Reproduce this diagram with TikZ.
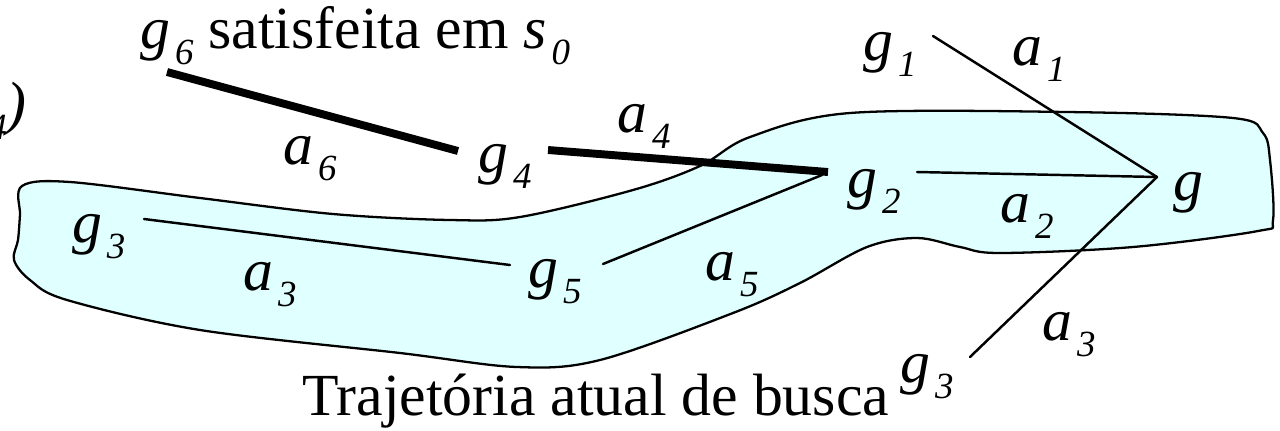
\documentclass[tikz,border=0pt]{standalone}
\usepackage{fontspec}
\setmainfont{Liberation Serif}
\definecolor{trajfill}{RGB}{224,255,255}
\newcommand{\rotulo}[2]{\textit{#1}\kern0.08em\raisebox{-0.28em}{\fontsize{21}{24}\selectfont\textit{#2}}}

\begin{document}
\begin{tikzpicture}[x=0.02cm, y=-0.02cm, line join=round, line cap=round,
		font=\fontsize{34}{40}\selectfont,
		fino/.style={line width=1.4pt},
		grosso/.style={line width=4.5pt, line cap=butt},
		rot/.style={inner sep=0pt, anchor=base west}]
		\useasboundingbox (0,0) rectangle (1280,430);
		% Trajetoria atual
		\draw[line width=1.3pt, fill=trajfill] plot[smooth cycle, tension=0.55] coordinates {
			(22,186) (70,182) (200,198) (333,214) (450,220) (520,217) (633,190) (700,166)
			(750,137) (850,113) (1067,112) (1233,118) (1263,133) (1270,160) (1273,220)
			(1258,231) (1133,247) (1000,253) (960,247) (917,238) (867,247) (800,283)
			(733,313) (600,360) (517,367) (400,353) (200,330) (67,300) (30,280) (14,260)
			(18,240) (20,215)};
		% rotulos
		\node[rot] (g6) at (140,48) {\rotulo{g}{6} satisfeita em \rotulo{s}{0}};
		\node[inner sep=0pt, anchor=base east] (g4frag) at (27,123) {\textit{\raisebox{-0.28em}{\fontsize{21}{24}\selectfont 4})}};
		\node[rot] (a6) at (283,164) {\rotulo{a}{6}};
		\node[rot] (g4) at (478,172) {\rotulo{g}{4}};
		\node[rot] (a4) at (617,132) {\rotulo{a}{4}};
		\node[rot] (g2) at (847,197) {\rotulo{g}{2}};
		\node[rot] (g1) at (863,60) {\rotulo{g}{1}};
		\node[rot] (a1) at (1012,65) {\rotulo{a}{1}};
		\node[rot] (a2) at (1000,222) {\rotulo{a}{2}};
		\node[rot] (g) at (1173,200) {\textit{g}};
		\node[rot] (a3d) at (1042,340) {\rotulo{a}{3}};
		\node[rot] (g3d) at (900,382) {\rotulo{g}{3}};
		\node[rot] (g3e) at (72,242) {\rotulo{g}{3}};
		\node[rot] (a3e) at (243,290) {\rotulo{a}{3}};
		\node[rot] (g5) at (528,287) {\rotulo{g}{5}};
		\node[rot] (a5) at (705,280) {\rotulo{a}{5}};
		\node[rot] (traj) at (302,415) {Trajetória atual de busca};
		% pontas das arestas
		\coordinate (c6) at (167,72);
		\coordinate (c4e) at (458,151);
		\coordinate (c4d) at (548,150);
		\coordinate (c2e) at (828,172);
		\coordinate (c5d) at (603,264);
		\coordinate (c2f) at (822,175);
		\coordinate (c3e) at (144,219);
		\coordinate (c5e) at (510,265);
		\coordinate (c1) at (933,36);
		\coordinate (c2d) at (917,172);
		\coordinate (c3d) at (970,357);
		\coordinate (cg) at (1157,177);
		% arestas
		\draw[grosso] (c6) -- (c4e);
		\draw[grosso] (c4d) -- (c2e);
		\draw[fino] (c5d) -- (c2f);
		\draw[fino] (c3e) -- (c5e);
		\draw[fino] (c1) -- (cg);
		\draw[fino] (c2d) -- (cg);
		\draw[fino] (c3d) -- (cg);
	\end{tikzpicture}
\end{document}
